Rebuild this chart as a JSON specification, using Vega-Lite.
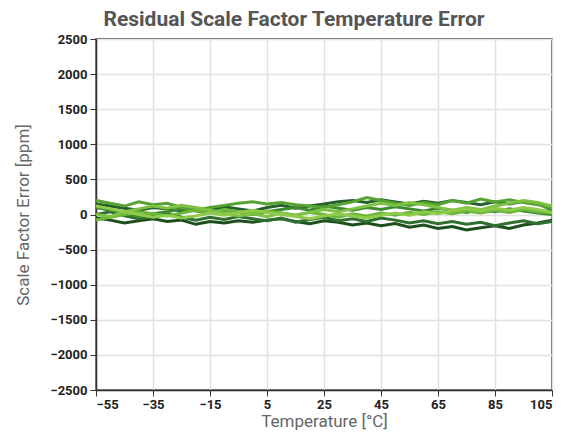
{
  "$schema": "https://vega.github.io/schema/vega-lite/v6.json",
  "width": 456,
  "height": 351,
  "autosize": "none",
  "padding": {"left": 96, "top": 39, "right": 24, "bottom": 49},
  "background": "white",
  "title": {"text": "Residual Scale Factor Temperature Error", "font": "Roboto", "fontSize": 21, "fontWeight": "bold", "color": "#555555", "offset": 3, "anchor": "middle", "dx": -30},
  "data": {"values": [
{"t":-55,"s":"a","v":-50},{"t":-50,"s":"a","v":-80},{"t":-45,"s":"a","v":-120},{"t":-40,"s":"a","v":-90},{"t":-35,"s":"a","v":-60},{"t":-30,"s":"a","v":-100},{"t":-25,"s":"a","v":-80},{"t":-20,"s":"a","v":-140},{"t":-15,"s":"a","v":-100},{"t":-10,"s":"a","v":-120},{"t":-5,"s":"a","v":-90},{"t":0,"s":"a","v":-110},{"t":5,"s":"a","v":-80},{"t":10,"s":"a","v":-60},{"t":15,"s":"a","v":-100},{"t":20,"s":"a","v":-130},{"t":25,"s":"a","v":-90},{"t":30,"s":"a","v":-110},{"t":35,"s":"a","v":-150},{"t":40,"s":"a","v":-120},{"t":45,"s":"a","v":-160},{"t":50,"s":"a","v":-130},{"t":55,"s":"a","v":-180},{"t":60,"s":"a","v":-150},{"t":65,"s":"a","v":-200},{"t":70,"s":"a","v":-170},{"t":75,"s":"a","v":-220},{"t":80,"s":"a","v":-190},{"t":85,"s":"a","v":-160},{"t":90,"s":"a","v":-200},{"t":95,"s":"a","v":-150},{"t":100,"s":"a","v":-120},{"t":105,"s":"a","v":-80},
{"t":-55,"s":"b","v":150},{"t":-50,"s":"b","v":120},{"t":-45,"s":"b","v":90},{"t":-40,"s":"b","v":60},{"t":-35,"s":"b","v":100},{"t":-30,"s":"b","v":80},{"t":-25,"s":"b","v":50},{"t":-20,"s":"b","v":90},{"t":-15,"s":"b","v":60},{"t":-10,"s":"b","v":110},{"t":-5,"s":"b","v":80},{"t":0,"s":"b","v":50},{"t":5,"s":"b","v":100},{"t":10,"s":"b","v":130},{"t":15,"s":"b","v":90},{"t":20,"s":"b","v":120},{"t":25,"s":"b","v":150},{"t":30,"s":"b","v":180},{"t":35,"s":"b","v":200},{"t":40,"s":"b","v":170},{"t":45,"s":"b","v":210},{"t":50,"s":"b","v":180},{"t":55,"s":"b","v":150},{"t":60,"s":"b","v":190},{"t":65,"s":"b","v":160},{"t":70,"s":"b","v":200},{"t":75,"s":"b","v":170},{"t":80,"s":"b","v":140},{"t":85,"s":"b","v":180},{"t":90,"s":"b","v":150},{"t":95,"s":"b","v":190},{"t":100,"s":"b","v":160},{"t":105,"s":"b","v":60},
{"t":-55,"s":"c","v":0},{"t":-50,"s":"c","v":40},{"t":-45,"s":"c","v":-20},{"t":-40,"s":"c","v":-60},{"t":-35,"s":"c","v":-30},{"t":-30,"s":"c","v":10},{"t":-25,"s":"c","v":-40},{"t":-20,"s":"c","v":-80},{"t":-15,"s":"c","v":-40},{"t":-10,"s":"c","v":-70},{"t":-5,"s":"c","v":-30},{"t":0,"s":"c","v":-60},{"t":5,"s":"c","v":-90},{"t":10,"s":"c","v":-50},{"t":15,"s":"c","v":-110},{"t":20,"s":"c","v":-70},{"t":25,"s":"c","v":-40},{"t":30,"s":"c","v":-90},{"t":35,"s":"c","v":-60},{"t":40,"s":"c","v":-100},{"t":45,"s":"c","v":-50},{"t":50,"s":"c","v":-80},{"t":55,"s":"c","v":-120},{"t":60,"s":"c","v":-90},{"t":65,"s":"c","v":-130},{"t":70,"s":"c","v":-100},{"t":75,"s":"c","v":-140},{"t":80,"s":"c","v":-110},{"t":85,"s":"c","v":-160},{"t":90,"s":"c","v":-120},{"t":95,"s":"c","v":-90},{"t":100,"s":"c","v":-130},{"t":105,"s":"c","v":-100},
{"t":-55,"s":"d","v":100},{"t":-50,"s":"d","v":60},{"t":-45,"s":"d","v":20},{"t":-40,"s":"d","v":-30},{"t":-35,"s":"d","v":10},{"t":-30,"s":"d","v":40},{"t":-25,"s":"d","v":80},{"t":-20,"s":"d","v":50},{"t":-15,"s":"d","v":20},{"t":-10,"s":"d","v":60},{"t":-5,"s":"d","v":30},{"t":0,"s":"d","v":0},{"t":5,"s":"d","v":40},{"t":10,"s":"d","v":70},{"t":15,"s":"d","v":100},{"t":20,"s":"d","v":60},{"t":25,"s":"d","v":120},{"t":30,"s":"d","v":90},{"t":35,"s":"d","v":60},{"t":40,"s":"d","v":100},{"t":45,"s":"d","v":70},{"t":50,"s":"d","v":110},{"t":55,"s":"d","v":80},{"t":60,"s":"d","v":50},{"t":65,"s":"d","v":90},{"t":70,"s":"d","v":60},{"t":75,"s":"d","v":30},{"t":80,"s":"d","v":70},{"t":85,"s":"d","v":40},{"t":90,"s":"d","v":80},{"t":95,"s":"d","v":50},{"t":100,"s":"d","v":20},{"t":105,"s":"d","v":0},
{"t":-55,"s":"e","v":200},{"t":-50,"s":"e","v":160},{"t":-45,"s":"e","v":120},{"t":-40,"s":"e","v":180},{"t":-35,"s":"e","v":140},{"t":-30,"s":"e","v":160},{"t":-25,"s":"e","v":100},{"t":-20,"s":"e","v":60},{"t":-15,"s":"e","v":100},{"t":-10,"s":"e","v":130},{"t":-5,"s":"e","v":160},{"t":0,"s":"e","v":180},{"t":5,"s":"e","v":150},{"t":10,"s":"e","v":170},{"t":15,"s":"e","v":140},{"t":20,"s":"e","v":120},{"t":25,"s":"e","v":100},{"t":30,"s":"e","v":140},{"t":35,"s":"e","v":180},{"t":40,"s":"e","v":240},{"t":45,"s":"e","v":200},{"t":50,"s":"e","v":160},{"t":55,"s":"e","v":130},{"t":60,"s":"e","v":170},{"t":65,"s":"e","v":140},{"t":70,"s":"e","v":200},{"t":75,"s":"e","v":160},{"t":80,"s":"e","v":220},{"t":85,"s":"e","v":180},{"t":90,"s":"e","v":210},{"t":95,"s":"e","v":170},{"t":100,"s":"e","v":140},{"t":105,"s":"e","v":80},
{"t":-55,"s":"f","v":-80},{"t":-50,"s":"f","v":-40},{"t":-45,"s":"f","v":0},{"t":-40,"s":"f","v":40},{"t":-35,"s":"f","v":10},{"t":-30,"s":"f","v":-20},{"t":-25,"s":"f","v":20},{"t":-20,"s":"f","v":60},{"t":-15,"s":"f","v":30},{"t":-10,"s":"f","v":70},{"t":-5,"s":"f","v":40},{"t":0,"s":"f","v":10},{"t":5,"s":"f","v":50},{"t":10,"s":"f","v":20},{"t":15,"s":"f","v":-10},{"t":20,"s":"f","v":30},{"t":25,"s":"f","v":0},{"t":30,"s":"f","v":-40},{"t":35,"s":"f","v":10},{"t":40,"s":"f","v":-20},{"t":45,"s":"f","v":20},{"t":50,"s":"f","v":-10},{"t":55,"s":"f","v":30},{"t":60,"s":"f","v":0},{"t":65,"s":"f","v":40},{"t":70,"s":"f","v":10},{"t":75,"s":"f","v":50},{"t":80,"s":"f","v":20},{"t":85,"s":"f","v":60},{"t":90,"s":"f","v":30},{"t":95,"s":"f","v":70},{"t":100,"s":"f","v":40},{"t":105,"s":"f","v":20},
{"t":-55,"s":"g","v":0},{"t":-50,"s":"g","v":-30},{"t":-45,"s":"g","v":40},{"t":-40,"s":"g","v":80},{"t":-35,"s":"g","v":120},{"t":-30,"s":"g","v":90},{"t":-25,"s":"g","v":130},{"t":-20,"s":"g","v":100},{"t":-15,"s":"g","v":60},{"t":-10,"s":"g","v":20},{"t":-5,"s":"g","v":-20},{"t":0,"s":"g","v":10},{"t":5,"s":"g","v":-30},{"t":10,"s":"g","v":20},{"t":15,"s":"g","v":-10},{"t":20,"s":"g","v":30},{"t":25,"s":"g","v":70},{"t":30,"s":"g","v":40},{"t":35,"s":"g","v":80},{"t":40,"s":"g","v":120},{"t":45,"s":"g","v":160},{"t":50,"s":"g","v":130},{"t":55,"s":"g","v":170},{"t":60,"s":"g","v":140},{"t":65,"s":"g","v":100},{"t":70,"s":"g","v":60},{"t":75,"s":"g","v":100},{"t":80,"s":"g","v":70},{"t":85,"s":"g","v":120},{"t":90,"s":"g","v":160},{"t":95,"s":"g","v":200},{"t":100,"s":"g","v":170},{"t":105,"s":"g","v":120},
{"t":-55,"s":"h","v":120},{"t":-50,"s":"h","v":80},{"t":-45,"s":"h","v":40},{"t":-40,"s":"h","v":0},{"t":-35,"s":"h","v":-40},{"t":-30,"s":"h","v":-10},{"t":-25,"s":"h","v":-50},{"t":-20,"s":"h","v":-20},{"t":-15,"s":"h","v":20},{"t":-10,"s":"h","v":-10},{"t":-5,"s":"h","v":30},{"t":0,"s":"h","v":60},{"t":5,"s":"h","v":30},{"t":10,"s":"h","v":0},{"t":15,"s":"h","v":-30},{"t":20,"s":"h","v":-60},{"t":25,"s":"h","v":-20},{"t":30,"s":"h","v":10},{"t":35,"s":"h","v":-20},{"t":40,"s":"h","v":-50},{"t":45,"s":"h","v":-10},{"t":50,"s":"h","v":20},{"t":55,"s":"h","v":-10},{"t":60,"s":"h","v":40},{"t":65,"s":"h","v":10},{"t":70,"s":"h","v":50},{"t":75,"s":"h","v":80},{"t":80,"s":"h","v":50},{"t":85,"s":"h","v":90},{"t":90,"s":"h","v":60},{"t":95,"s":"h","v":100},{"t":100,"s":"h","v":70},{"t":105,"s":"h","v":30}
  ]},
  "mark": {"type": "line", "strokeWidth": 3, "strokeJoin": "miter", "clip": true},
  "encoding": {
    "x": {"field": "t", "type": "quantitative", "title": "Temperature [°C]",
      "scale": {"domain": [-55, 105], "nice": false, "zero": false},
      "axis": {"values": [-55, -35, -15, 5, 25, 45, 65, 85, 105], "format": "d", "titlePadding": 2, "labelPadding": 2}},
    "y": {"field": "v", "type": "quantitative", "title": "Scale Factor Error [ppm]",
      "scale": {"domain": [-2500, 2500], "nice": false},
      "axis": {"values": [-2500, -2000, -1500, -1000, -500, 0, 500, 1000, 1500, 2000, 2500], "format": "d", "titlePadding": 17, "labelPadding": 3}},
    "color": {"field": "s", "type": "nominal", "legend": null,
      "scale": {"domain": ["a","b","c","d","e","f","g","h"], "range": ["#1d4f1d","#24602a","#2f7030","#3d8a2e","#56a332","#6ab73c","#7dc242","#8fca4a"]}},
    "detail": {"field": "s"}
  },
  "config": {
    "view": {"stroke": "#333333", "strokeWidth": 1.5},
    "axis": {
      "labelFont": "Roboto", "labelFontWeight": "bold", "labelFontSize": 13, "labelColor": "#222222",
      "titleFont": "Roboto", "titleFontWeight": "normal", "titleFontSize": 17, "titleColor": "#666666",
      "domainColor": "#333333", "domainWidth": 1.5, "tickColor": "#333333", "tickSize": 6,
      "gridColor": "#e0e4dc", "gridWidth": 1.5, "grid": true
    }
  }
}
